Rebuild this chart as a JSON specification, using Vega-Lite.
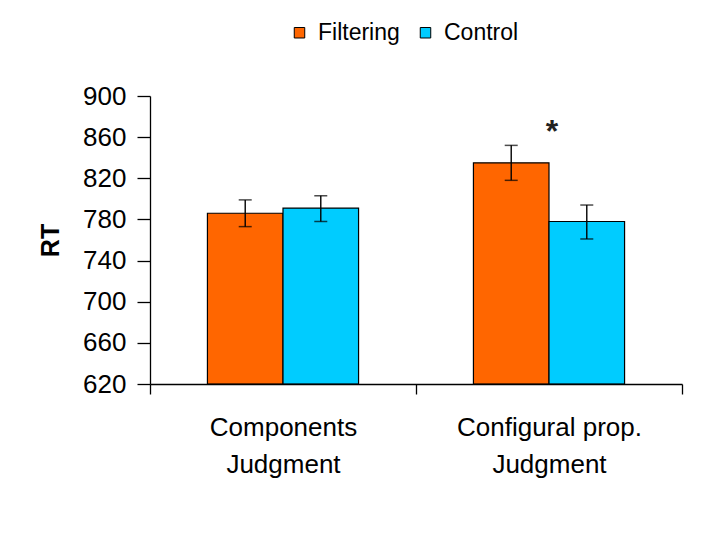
{
  "$schema": "https://vega.github.io/schema/vega-lite/v6.json",
  "width": 532,
  "height": 288,
  "autosize": "none",
  "padding": {"left": 150, "top": 96, "right": 27, "bottom": 149},
  "background": "white",
  "config": {
    "view": {"stroke": null},
    "font": "Liberation Sans",
    "axis": {"grid": false, "domainColor": "#000", "tickColor": "#000", "labelColor": "#000", "titleColor": "#000", "domainWidth": 1.3, "tickWidth": 1.3}
  },
  "datasets": {
    "bars": [
      {"judgment": "Components|Judgment", "condition": "Filtering", "rt": 786, "lo": 773, "hi": 799},
      {"judgment": "Components|Judgment", "condition": "Control", "rt": 791, "lo": 778, "hi": 803},
      {"judgment": "Configural prop.|Judgment", "condition": "Filtering", "rt": 835, "lo": 818, "hi": 852},
      {"judgment": "Configural prop.|Judgment", "condition": "Control", "rt": 778, "lo": 761, "hi": 794}
    ],
    "sig": [
      {"judgment": "Configural prop.|Judgment", "y": 868, "mark": "*"}
    ]
  },
  "encoding": {
    "x": {
      "field": "judgment", "type": "nominal", "sort": null,
      "scale": {"paddingInner": 0, "paddingOuter": 0},
      "axis": {"title": null, "labelAngle": 0, "tickBand": "extent", "tickSize": 10, "labelPadding": 20, "labelFontSize": 26, "labelLineHeight": 37, "labelLimit": 400, "labelExpr": "split(datum.label, '|')", "labelBaseline": "top", "labelOverlap": false, "labelBound": false, "zindex": 1}
    }
  },
  "layer": [
    {
      "data": {"name": "bars"},
      "mark": {"type": "bar", "stroke": "#000", "strokeWidth": 1.2},
      "encoding": {
        "xOffset": {"field": "condition", "type": "nominal", "sort": ["Filtering", "Control"], "scale": {"paddingInner": 0, "paddingOuter": 0.76}},
        "y": {
          "field": "rt", "type": "quantitative",
          "scale": {"domain": [620, 900], "nice": false, "zero": false},
          "axis": {"title": "RT", "titleFontSize": 25, "titleFontWeight": "bold", "titlePadding": 19, "values": [620, 660, 700, 740, 780, 820, 860, 900], "labelFontSize": 26, "tickSize": 13, "labelPadding": 11}
        },
        "y2": {"datum": 620},
        "color": {
          "field": "condition", "type": "nominal", "sort": ["Filtering", "Control"],
          "scale": {"domain": ["Filtering", "Control"], "range": ["#FF6600", "#00CCFF"]},
          "legend": {"title": null, "orient": "none", "direction": "horizontal", "legendX": 138, "legendY": -75, "symbolType": "square", "symbolSize": 110, "symbolStrokeColor": "#000", "symbolStrokeWidth": 1, "symbolOpacity": 1, "labelFontSize": 23, "labelOffset": 7, "columnPadding": 14, "labelColor": "#000"}
        }
      }
    },
    {
      "data": {"name": "bars"},
      "mark": {"type": "rule", "color": "#000", "strokeWidth": 1.4},
      "encoding": {
        "xOffset": {"field": "condition", "type": "nominal", "sort": ["Filtering", "Control"]},
        "y": {"field": "lo", "type": "quantitative"},
        "y2": {"field": "hi"}
      }
    },
    {
      "data": {"name": "bars"},
      "mark": {"type": "tick", "color": "#000", "size": 13, "thickness": 1.5},
      "encoding": {
        "xOffset": {"field": "condition", "type": "nominal", "sort": ["Filtering", "Control"]},
        "y": {"field": "lo", "type": "quantitative"}
      }
    },
    {
      "data": {"name": "bars"},
      "mark": {"type": "tick", "color": "#000", "size": 13, "thickness": 1.5},
      "encoding": {
        "xOffset": {"field": "condition", "type": "nominal", "sort": ["Filtering", "Control"]},
        "y": {"field": "hi", "type": "quantitative"}
      }
    },
    {
      "data": {"name": "sig"},
      "mark": {"type": "text", "fontSize": 32, "fontWeight": "bold", "color": "#222", "baseline": "middle", "dy": 3, "dx": 3},
      "encoding": {
        "y": {"field": "y", "type": "quantitative"},
        "text": {"field": "mark"}
      }
    }
  ]
}
